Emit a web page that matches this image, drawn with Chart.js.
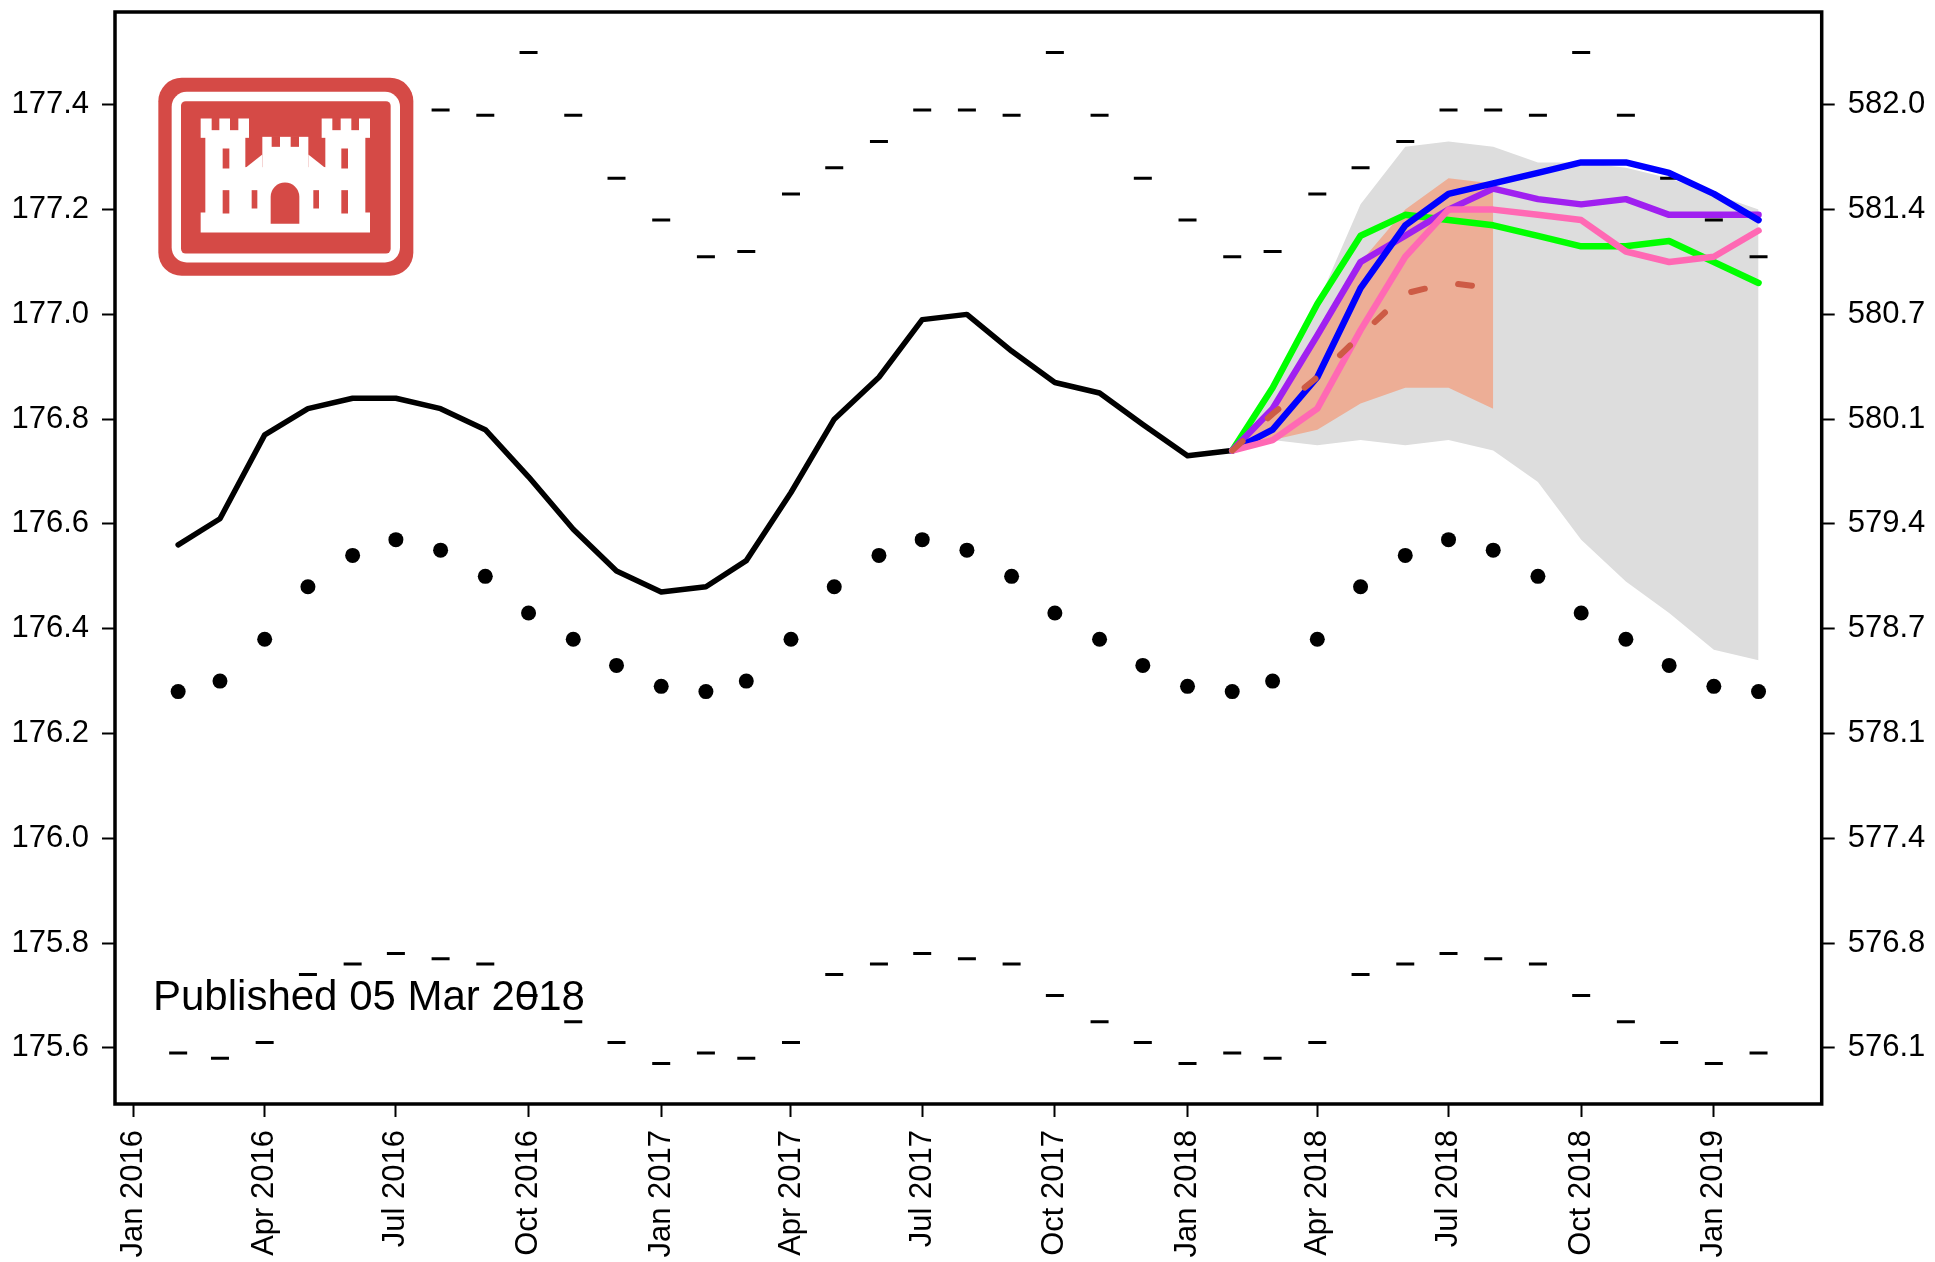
<!DOCTYPE html>
<html>
<head>
<meta charset="utf-8">
<script src="https://cdn.jsdelivr.net/npm/chart.js@4.4.1/dist/chart.umd.min.js"></script>
<style>
  html, body { margin: 0; padding: 0; background: #ffffff; }
  #wrap { width: 1935px; height: 1262px; }
</style>
</head>
<body>
<div id="wrap"><canvas id="c" width="1935" height="1262"></canvas></div>
<script>
// ---------------- DATA ----------------
const months = [
  "2016-02","2016-03","2016-04","2016-05","2016-06","2016-07","2016-08","2016-09","2016-10","2016-11","2016-12",
  "2017-01","2017-02","2017-03","2017-04","2017-05","2017-06","2017-07","2017-08","2017-09","2017-10","2017-11","2017-12",
  "2018-01","2018-02","2018-03","2018-04","2018-05","2018-06","2018-07","2018-08","2018-09","2018-10","2018-11","2018-12",
  "2019-01","2019-02"
];

// Observed monthly mean level (m), Feb 2016 - Feb 2018
const observed = [176.56,176.61,176.77,176.82,176.84,176.84,176.82,176.78,176.69,176.59,176.51,
  176.47,176.48,176.53,176.66,176.80,176.88,176.99,177.00,176.93,176.87,176.85,176.79,
  176.73,176.74];

// Long-term average (dots)
const longTermAvg = [176.28,176.30,176.38,176.48,176.54,176.57,176.55,176.50,176.43,176.38,176.33,
  176.29,176.28,176.30,176.38,176.48,176.54,176.57,176.55,176.50,176.43,176.38,176.33,
  176.29,176.28,176.30,176.38,176.48,176.54,176.57,176.55,176.50,176.43,176.38,176.33,
  176.29,176.28];

// Record highs (upper dashes)
const recordHigh = [177.11,177.12,177.23,177.28,177.33,177.39,177.39,177.38,177.50,177.38,177.26,
  177.18,177.11,177.12,177.23,177.28,177.33,177.39,177.39,177.38,177.50,177.38,177.26,
  177.18,177.11,177.12,177.23,177.28,177.33,177.39,177.39,177.38,177.50,177.38,177.26,
  177.18,177.11];

// Record lows (lower dashes)
const recordLow = [175.59,175.58,175.61,175.74,175.76,175.78,175.77,175.76,175.70,175.65,175.61,
  175.57,175.59,175.58,175.61,175.74,175.76,175.78,175.77,175.76,175.70,175.65,175.61,
  175.57,175.59,175.58,175.61,175.74,175.76,175.78,175.77,175.76,175.70,175.65,175.61,
  175.57,175.59];

// Forecast period
const forecastMonths = ["2018-02","2018-03","2018-04","2018-05","2018-06","2018-07","2018-08",
  "2018-09","2018-10","2018-11","2018-12","2019-01","2019-02"];
const rangeUpper = [176.74,176.86,177.02,177.21,177.32,177.33,177.32,177.29,177.29,177.28,177.26,177.23,177.20];
const rangeLower = [176.74,176.76,176.75,176.76,176.75,176.76,176.74,176.68,176.57,176.49,176.43,176.36,176.34];
const officialUpper = [176.74,176.82,176.95,177.10,177.20,177.26,177.25];
const officialLower = [176.74,176.76,176.78,176.83,176.86,176.86,176.82];
const officialMid   = [176.74,176.81,176.88,176.96,177.04,177.06,177.05];
const greenSeries  = [176.74,176.86,177.02,177.15,177.19,177.18,177.17,177.15,177.13,177.13,177.14,177.10,177.06];
const purpleSeries = [176.74,176.82,176.96,177.10,177.15,177.20,177.24,177.22,177.21,177.22,177.19,177.19,177.19];
const blueSeries   = [176.74,176.78,176.88,177.05,177.17,177.23,177.25,177.27,177.29,177.29,177.27,177.23,177.18];
const pinkSeries   = [176.74,176.76,176.82,176.97,177.11,177.20,177.20,177.19,177.18,177.12,177.10,177.11,177.16];

// Axis ticks
const leftTicks = [175.6,175.8,176.0,176.2,176.4,176.6,176.8,177.0,177.2,177.4];
const rightTickLabels = ["576.1","576.8","577.4","578.1","578.7","579.4","580.1","580.7","581.4","582.0"];
const xTickMonths = ["2016-01","2016-04","2016-07","2016-10","2017-01","2017-04","2017-07","2017-10",
  "2018-01","2018-04","2018-07","2018-10","2019-01"];
const xTickLabels = ["Jan 2016","Apr 2016","Jul 2016","Oct 2016","Jan 2017","Apr 2017","Jul 2017","Oct 2017",
  "Jan 2018","Apr 2018","Jul 2018","Oct 2018","Jan 2019"];
const publishedText = "Published 05 Mar 2018";

// ---------------- HELPERS ----------------
const ORIGIN = Date.UTC(2016, 0, 1);
function dayOf(m) { const p = m.split("-").map(Number); return (Date.UTC(p[0], p[1] - 1, 1) - ORIGIN) / 86400000; }
const xDays = months.map(dayOf);
const fDays = forecastMonths.map(dayOf);
const pts = (days, vals) => vals.map((v, i) => ({ x: days[i], y: v })).filter(p => p.y !== null && p.y !== undefined);

const FONT = '"Liberation Sans", Arial, Helvetica, sans-serif';
Chart.defaults.font.family = FONT;
Chart.defaults.font.size = 31;
Chart.defaults.color = "#000";

function lineDs(label, data, color, width, order, extra) {
  return Object.assign({
    label, data, borderColor: color, borderWidth: width, pointRadius: 0, pointHoverRadius: 0,
    fill: false, tension: 0, borderCapStyle: "round", borderJoinStyle: "round", order
  }, extra || {});
}

// ---------------- PLUGINS ----------------
function roundRectPath(ctx, x0, y0, x1, y1, r) {
  ctx.beginPath();
  ctx.moveTo(x0 + r, y0);
  ctx.lineTo(x1 - r, y0); ctx.arcTo(x1, y0, x1, y0 + r, r);
  ctx.lineTo(x1, y1 - r); ctx.arcTo(x1, y1, x1 - r, y1, r);
  ctx.lineTo(x0 + r, y1); ctx.arcTo(x0, y1, x0, y1 - r, r);
  ctx.lineTo(x0, y0 + r); ctx.arcTo(x0, y0, x0 + r, y0, r);
  ctx.closePath();
}

const decorPlugin = {
  id: "decor",
  afterDatasetsDraw(chart) {
    const ctx = chart.ctx, a = chart.chartArea;
    // Logo
    ctx.save();
    ctx.translate(a.left + 35, a.top + 56.5);
    ctx.scale(1 / 3, 1 / 3);
    const RED = "#d54a46", WHITE = "#ffffff";
    ctx.fillStyle = RED; roundRectPath(ctx, 25, 28, 790, 622, 70); ctx.fill();
    ctx.fillStyle = WHITE; roundRectPath(ctx, 65, 70, 750, 582, 45); ctx.fill();
    ctx.fillStyle = RED; roundRectPath(ctx, 93, 98, 722, 555, 14); ctx.fill();
    ctx.fillStyle = WHITE;
    const W = (x0, y0, x1, y1) => ctx.fillRect(x0, y0, x1 - x0, y1 - y0);
    W(152, 150, 297, 208); W(166, 200, 286, 440);
    W(515, 150, 660, 208); W(526, 200, 646, 440);
    W(337, 205, 475, 300); W(284, 296, 528, 440);
    ctx.beginPath(); ctx.moveTo(284, 300); ctx.lineTo(337, 258); ctx.lineTo(337, 300); ctx.closePath(); ctx.fill();
    ctx.beginPath(); ctx.moveTo(528, 300); ctx.lineTo(475, 258); ctx.lineTo(475, 300); ctx.closePath(); ctx.fill();
    W(152, 432, 660, 492);
    ctx.fillStyle = RED;
    W(185, 148, 208, 185); W(240, 148, 265, 185);
    W(547, 148, 572, 185); W(604, 148, 627, 185);
    W(365, 203, 390, 235); W(422, 203, 447, 235);
    W(218, 240, 238, 300); W(218, 365, 238, 435); W(305, 365, 322, 420);
    W(574, 240, 594, 300); W(574, 365, 594, 435); W(490, 365, 507, 420);
    ctx.beginPath(); ctx.moveTo(362, 466); ctx.lineTo(362, 385); ctx.arc(405, 385, 43, Math.PI, 0); ctx.lineTo(448, 466); ctx.closePath(); ctx.fill();
    ctx.restore();

    // Published text
    ctx.save();
    ctx.font = "42px " + FONT;
    ctx.fillStyle = "#000";
    ctx.textAlign = "left";
    ctx.textBaseline = "alphabetic";
    ctx.fillText(publishedText, a.left + 38, a.bottom - 94);
    ctx.restore();
  },
  afterDraw(chart) {
    const ctx = chart.ctx, a = chart.chartArea;
    ctx.save();
    ctx.strokeStyle = "#000";
    ctx.lineWidth = 3.5;
    ctx.strokeRect(a.left, a.top, a.right - a.left, a.bottom - a.top);
    ctx.restore();
  }
};

// ---------------- CHART ----------------
const tickGrid = { display: true, drawOnChartArea: false, drawTicks: true, tickLength: 13, tickWidth: 2, tickColor: "#000" };
const noPadV = s => { s.paddingTop = 0; s.paddingBottom = 0; };

new Chart(document.getElementById("c"), {
  type: "line",
  data: {
    datasets: [
      lineDs("Official forecast mid", pts(fDays.slice(0, officialMid.length), officialMid), "#cd5b45", 6, 1, { borderDash: [14, 34] }),
      lineDs("Pink scenario", pts(fDays, pinkSeries), "#ff69b4", 6.5, 2),
      lineDs("Blue scenario", pts(fDays, blueSeries), "#0000ff", 6.5, 3),
      lineDs("Purple scenario", pts(fDays, purpleSeries), "#a020f0", 6.5, 4),
      lineDs("Green scenario", pts(fDays, greenSeries), "#00ff00", 6.5, 5),
      lineDs("Observed", pts(xDays, observed), "#000000", 5.5, 6),
      lineDs("Long-term average", pts(xDays, longTermAvg), "#000000", 0, 7,
        { showLine: false, pointRadius: 7.5, pointStyle: "circle", pointBackgroundColor: "#000", pointBorderWidth: 0 }),
      lineDs("Record high", pts(xDays, recordHigh), "#000000", 0, 8,
        { showLine: false, pointRadius: 9, pointStyle: "line", pointBorderColor: "#000", pointBorderWidth: 3 }),
      lineDs("Record low", pts(xDays, recordLow), "#000000", 0, 9,
        { showLine: false, pointRadius: 9, pointStyle: "line", pointBorderColor: "#000", pointBorderWidth: 3 }),
      lineDs("Official upper", pts(fDays.slice(0, officialUpper.length), officialUpper), "rgba(0,0,0,0)", 0, 10,
        { fill: "+1", backgroundColor: "#edae96" }),
      lineDs("Official lower", pts(fDays.slice(0, officialLower.length), officialLower), "rgba(0,0,0,0)", 0, 11),
      lineDs("Range upper", pts(fDays, rangeUpper), "rgba(0,0,0,0)", 0, 12,
        { fill: "+1", backgroundColor: "#dddddd" }),
      lineDs("Range lower", pts(fDays, rangeLower), "rgba(0,0,0,0)", 0, 13)
    ]
  },
  options: {
    responsive: false,
    animation: false,
    devicePixelRatio: 1,
    layout: { padding: { top: 9.5, left: 0, right: 0, bottom: 0 } },
    plugins: { legend: { display: false }, tooltip: { enabled: false }, filler: { propagate: false } },
    events: [],
    scales: {
      x: {
        type: "linear", position: "bottom", min: -12.8, max: 1170.8,
        grid: tickGrid, border: { display: false },
        afterBuildTicks: s => { s.ticks = xTickMonths.map(m => ({ value: dayOf(m) })); },
        afterFit: s => { s.height = 158; s.paddingLeft = 0; s.paddingRight = 0; },
        ticks: {
          autoSkip: false, minRotation: 90, maxRotation: 90, padding: 13,
          font: { size: 31 }, color: "#000",
          callback: (v, i) => xTickLabels[i]
        }
      },
      y: {
        type: "linear", position: "left", min: 175.4928, max: 177.5772,
        grid: tickGrid, border: { display: false },
        afterBuildTicks: s => { s.ticks = leftTicks.map(v => ({ value: v })); },
        afterFit: s => { s.width = 115; noPadV(s); },
        ticks: { padding: 13, font: { size: 31 }, color: "#000", callback: v => Number(v).toFixed(1) }
      },
      y2: {
        type: "linear", position: "right", min: 175.4928, max: 177.5772,
        grid: tickGrid, border: { display: false },
        afterBuildTicks: s => { s.ticks = leftTicks.map(v => ({ value: v })); },
        afterFit: s => { s.width = 113.3; noPadV(s); },
        ticks: { padding: 13, font: { size: 31 }, color: "#000", callback: (v, i) => rightTickLabels[i] }
      }
    }
  },
  plugins: [decorPlugin]
});
</script>
</body>
</html>
